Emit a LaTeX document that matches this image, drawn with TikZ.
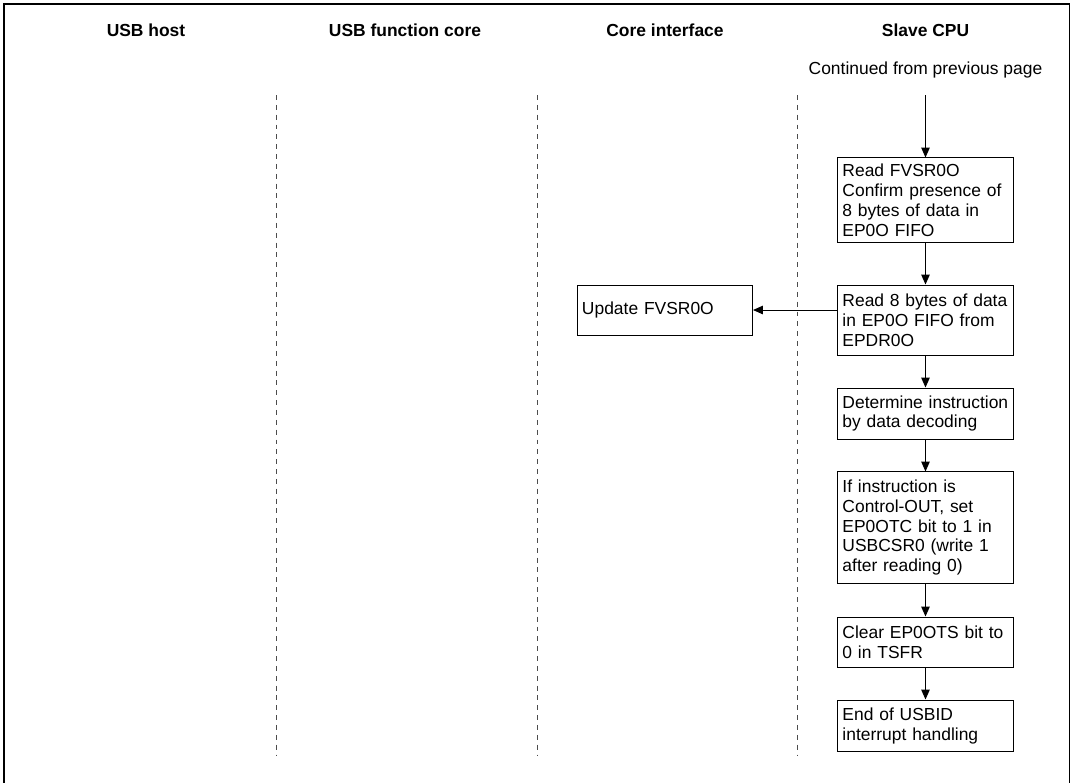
\documentclass[tikz,border=0pt]{standalone}
\usepackage{fontspec}
\setmainfont{Liberation Sans}
\usetikzlibrary{arrows.meta,positioning}

\tikzset{
  lanehead/.style={font=\fontsize{12.4}{14.2}\selectfont\bfseries},
  plain/.style={font=\fontsize{12.4}{14.2}\selectfont},
  stepbox/.style={draw, line width=0.7pt, text width=4.15cm, inner xsep=3.2pt,
    inner ysep=2pt, align=left, font=\fontsize{12.4}{14.2}\selectfont},
  flow/.style={-{Triangle[length=7pt,width=6pt]}, line width=0.7pt},
  lifeline/.style={dash pattern=on 3.5pt off 3.5pt, line width=0.6pt, black!70},
}

\begin{document}
\begin{tikzpicture}[x=0.025cm,y=-0.025cm]
        \useasboundingbox (0,0) rectangle (1074,783);
        % outer frame (open at the bottom)
        \draw[line width=1.4pt] (4,783) -- (4,4) -- (1069.5,4) -- (1069.5,783);
        % lane headings
        \node[lanehead] (host) at (146,30) {USB host};
        \node[lanehead] (fcore) at (405,30) {USB function core};
        \node[lanehead] (cif) at (665,30) {Core interface};
        \node[lanehead] (cpu) at (925.5,30) {Slave CPU};
        % lane separators
        \foreach \x in {276.5,537.5,797.5}
          \draw[lifeline] (\x,95) -- (\x,755);
        % slave CPU steps
        \node[plain] (cont) at (925.5,70) {Continued from previous page};
        \coordinate (start) at (925.5,95);
        \node[stepbox, minimum height=2.1cm] (rdfvsr) at (925.5,200)
          {Read FVSR0O\\Confirm presence of\\8 bytes of data in\\EP0O FIFO};
        \node[stepbox, minimum height=1.75cm] (rddata) at (925.5,320)
          {Read 8 bytes of data\\in EP0O FIFO from\\EPDR0O};
        \node[stepbox, minimum height=1.275cm] (decode) at (925.5,413.5)
          {Determine instruction\\by data decoding};
        \node[stepbox, minimum height=2.775cm] (setotc) at (925.5,527.5)
          {If instruction is\\Control-OUT, set\\EP0OTC bit to 1 in\\USBCSR0 (write 1\\after reading 0)};
        \node[stepbox, minimum height=1.25cm] (clrots) at (925.5,642)
          {Clear EP0OTS bit to\\0 in TSFR};
        \node[stepbox, minimum height=1.275cm] (done) at (925.5,725.5)
          {End of USBID\\interrupt handling};
        % core interface
        \node[stepbox, minimum height=1.25cm] (updfvsr) at (665,310) {Update FVSR0O};
        % connectors
        \draw[flow] (start) -- (rdfvsr);
        \draw[flow] (rdfvsr) -- (rddata);
        \draw[flow] (rddata) -- (decode);
        \draw[flow] (decode) -- (setotc);
        \draw[flow] (setotc) -- (clrots);
        \draw[flow] (clrots) -- (done);
        \draw[flow] (updfvsr -| rddata.west) -- (updfvsr.east);
      \end{tikzpicture}
\end{document}
